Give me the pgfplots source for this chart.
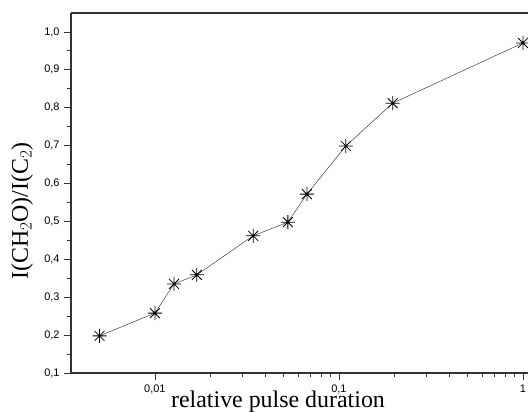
\documentclass[border=0pt]{standalone}
\usepackage{fontspec}
\setmainfont{Liberation Serif}
\newfontfamily\arial{Liberation Sans}
\usepackage{pgfplots}
\pgfplotsset{compat=1.18}

% eight-armed asterisk like the original plot
\pgfdeclareplotmark{star8}{%
  \pgfpathmoveto{\pgfqpoint{-\pgfplotmarksize}{0pt}}%
  \pgfpathlineto{\pgfqpoint{\pgfplotmarksize}{0pt}}%
  \pgfpathmoveto{\pgfqpoint{0pt}{-\pgfplotmarksize}}%
  \pgfpathlineto{\pgfqpoint{0pt}{\pgfplotmarksize}}%
  \pgfpathmoveto{\pgfqpoint{-0.707\pgfplotmarksize}{-0.707\pgfplotmarksize}}%
  \pgfpathlineto{\pgfqpoint{0.707\pgfplotmarksize}{0.707\pgfplotmarksize}}%
  \pgfpathmoveto{\pgfqpoint{-0.707\pgfplotmarksize}{0.707\pgfplotmarksize}}%
  \pgfpathlineto{\pgfqpoint{0.707\pgfplotmarksize}{-0.707\pgfplotmarksize}}%
  \pgfusepathqstroke}

\begin{document}
\begin{tikzpicture}
\begin{semilogxaxis}[
  scale only axis, width=457bp, height=360bp,
  xmin=0.0035, xmax=1.065, ymin=0.1, ymax=1.05,
  axis x line=box, axis y line=left,
  axis line style={-, line width=1.1pt, black!80},
  xtick pos=bottom, ytick pos=left, tick align=outside,
  major tick length=7bp, minor tick length=4bp,
  every tick/.style={black!80, line width=0.8pt},
  xtick={0.01,0.1,1}, xticklabels={{0,01},{0,1},{1}},
  ytick={0.1,0.2,0.3,0.4,0.5,0.6,0.7,0.8,0.9,1.0},
  yticklabels={{0,1},{0,2},{0,3},{0,4},{0,5},{0,6},{0,7},{0,8},{0,9},{1,0}},
  minor y tick num=1,
  xticklabel style={font=\arial\fontsize{11}{13}\selectfont, yshift=-1bp},
  yticklabel style={font=\arial\fontsize{11}{13}\selectfont, xshift=-1bp},
  xlabel={relative pulse duration},
  ylabel={I(CH$_2$O)/I(C$_2$)},
  label style={font=\fontsize{24}{26}\selectfont},
  xlabel style={at={(axis description cs:0.453,-0.095)}, anchor=base},
  ylabel style={at={(axis description cs:-0.107,0.45)}, anchor=center},
]
\addplot[black!75, line width=0.5pt, mark=star8, mark size=7bp,
  mark options={black, line width=0.8pt}] coordinates {
  (0.005,0.198) (0.010,0.258) (0.0127,0.335) (0.0169,0.359)
  (0.0342,0.462) (0.0528,0.498) (0.067,0.572) (0.109,0.699)
  (0.196,0.812) (1.0,0.971)
};
\coordinate (SW) at (rel axis cs:0,0);
\coordinate (NE) at (rel axis cs:1,1);
\end{semilogxaxis}
\pgfresetboundingbox
\path[use as bounding box] ([xshift=-71bp,yshift=-39bp]SW) rectangle ([yshift=13bp]NE);
\end{tikzpicture}
\end{document}
